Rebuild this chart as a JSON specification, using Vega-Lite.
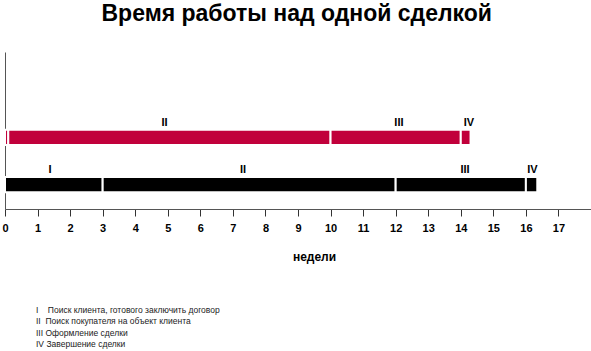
{
  "$schema": "https://vega.github.io/schema/vega-lite/v6.json",
  "padding": {"left": 1, "top": 3, "right": 0, "bottom": 0},
  "title": {
    "text": "Время работы над одной сделкой",
    "fontSize": 23,
    "fontWeight": "bold",
    "font": "Liberation Sans",
    "color": "#000000",
    "anchor": "middle",
    "offset": 26
  },
  "config": {
    "view": {"stroke": null},
    "font": "Liberation Sans",
    "axisX": {
      "grid": false,
      "domainColor": "#555555",
      "tickColor": "#333333",
      "tickSize": 7,
      "labelFont": "Liberation Sans",
      "labelFontWeight": "bold",
      "labelFontSize": 11,
      "labelColor": "#000000",
      "labelPadding": 6,
      "labelFlush": false,
      "labelOverlap": false,
      "titleFont": "Liberation Sans",
      "titleFontSize": 12,
      "titleFontWeight": "bold",
      "titleColor": "#000000",
      "titlePadding": 18,
      "titleX": 309
    }
  },
  "spacing": 42,
  "vconcat": [
    {
      "width": 586,
      "height": 157,
      "layer": [
        {
          "data": {
            "values": [
              {"plan": "A", "stage": "I", "start": 0, "end": 0.1},
              {"plan": "A", "stage": "II", "start": 0.1, "end": 10},
              {"plan": "A", "stage": "III", "start": 10, "end": 14},
              {"plan": "A", "stage": "IV", "start": 14, "end": 14.3},
              {"plan": "B", "stage": "I", "start": 0, "end": 3},
              {"plan": "B", "stage": "II", "start": 3, "end": 12},
              {"plan": "B", "stage": "III", "start": 12, "end": 16},
              {"plan": "B", "stage": "IV", "start": 16, "end": 16.35}
            ]
          },
          "mark": {"type": "bar", "stroke": "white", "strokeWidth": 2},
          "encoding": {
            "y": {
              "field": "plan",
              "type": "nominal",
              "scale": {"domain": ["A", "B"], "paddingInner": 0.674, "paddingOuter": 1.0435, "align": 0.823},
              "axis": {"title": null, "labels": false, "ticks": false, "domain": true, "domainColor": "#555555", "grid": false}
            },
            "x": {
              "field": "start",
              "type": "quantitative",
              "scale": {"domain": [0, 18], "nice": false},
              "axis": {
                "values": [0, 1, 2, 3, 4, 5, 6, 7, 8, 9, 10, 11, 12, 13, 14, 15, 16, 17, 18],
                "labelExpr": "datum.value == 18 ? '' : datum.label",
                "title": "недели"
              }
            },
            "x2": {"field": "end"},
            "color": {
              "field": "plan",
              "type": "nominal",
              "scale": {"domain": ["A", "B"], "range": ["#C1003B", "#000000"]},
              "legend": null
            }
          }
        },
        {
          "data": {
            "values": [
              {"plan": "A", "stage": "II", "pos": 4.9},
              {"plan": "A", "stage": "III", "pos": 12.1},
              {"plan": "A", "stage": "IV", "pos": 14.25},
              {"plan": "B", "stage": "I", "pos": 1.38},
              {"plan": "B", "stage": "II", "pos": 7.31},
              {"plan": "B", "stage": "III", "pos": 14.13},
              {"plan": "B", "stage": "IV", "pos": 16.2}
            ]
          },
          "mark": {"type": "text", "fontWeight": "bold", "fontSize": 11, "dy": -14.5, "color": "#000000", "baseline": "middle"},
          "encoding": {
            "y": {"field": "plan", "type": "nominal"},
            "x": {
              "field": "pos",
              "type": "quantitative",
              "axis": {
                "values": [0, 1, 2, 3, 4, 5, 6, 7, 8, 9, 10, 11, 12, 13, 14, 15, 16, 17, 18],
                "labelExpr": "datum.value == 18 ? '' : datum.label",
                "title": "недели"
              }
            },
            "text": {"field": "stage"}
          }
        }
      ]
    },
    {
      "width": 586,
      "height": 46,
      "data": {
        "values": [
          {"row": 1, "text": "I\u00a0\u00a0\u00a0\u00a0Поиск клиента, готового заключить договор"},
          {"row": 2, "text": "II\u00a0\u00a0Поиск покупателя на объект клиента"},
          {"row": 3, "text": "III\u00a0Оформление сделки"},
          {"row": 4, "text": "IV\u00a0Завершение сделки"}
        ]
      },
      "mark": {"type": "text", "align": "left", "baseline": "middle", "fontSize": 8.5, "color": "#222222"},
      "encoding": {
        "y": {"field": "row", "type": "ordinal", "scale": {"type": "point", "padding": 0.5}, "axis": null},
        "x": {"value": 31},
        "text": {"field": "text"}
      }
    }
  ]
}
